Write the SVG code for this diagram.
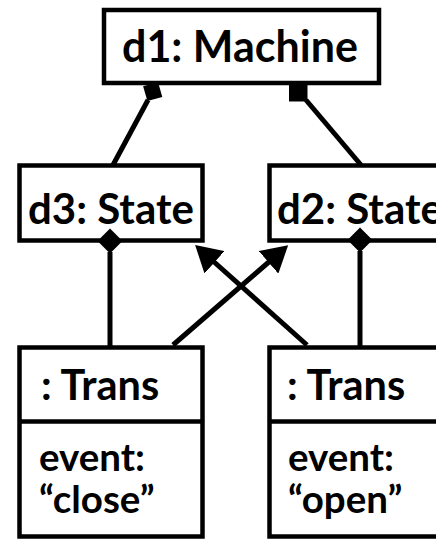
<svg xmlns="http://www.w3.org/2000/svg" width="436" height="540" viewBox="0 0 436 540">
  <style>
    .box { fill: #fff; stroke: #000; stroke-width: 4.5; }
    .sep { stroke: #000; stroke-width: 4.5; }
    .lbl { font-family: Lato, "Open Sans", sans-serif; font-weight: bold; fill: #000; }
    .big { font-size: 43px; }
    .state { font-size: 42px; }
    .cls { font-size: 41.5px; }
    .attr { font-size: 38.5px; }
    .link { stroke: #000; stroke-width: 5; fill: none; }
    .diamond { fill: #000; }
  </style>
  <defs>
    <marker id="head" viewBox="0 0 26 30" refX="2" refY="15" markerWidth="26" markerHeight="30" markerUnits="userSpaceOnUse" orient="auto">
      <path d="M0,0 L26,15 L0,30 Z" fill="#000"/>
    </marker>
  </defs>

  <g id="d1">
    <rect class="box" x="104" y="10" width="275" height="73"/>
    <text class="lbl big" x="122" y="62">d1: Machine</text>
  </g>

  <g id="d3">
    <rect class="box" x="19.5" y="165.5" width="183" height="75"/>
    <text class="lbl state" x="28" y="224">d3: State</text>
  </g>

  <g id="d2">
    <rect class="box" x="269.5" y="165.5" width="183" height="75"/>
    <text class="lbl state" x="277" y="224">d2: State</text>
  </g>

  <g id="t1">
    <rect class="box" x="19.5" y="347.5" width="183" height="189"/>
    <line class="sep" x1="19.5" y1="421.5" x2="202.5" y2="421.5"/>
    <text class="lbl cls" x="41" y="400">: Trans</text>
    <text class="lbl attr" x="39" y="471">event:</text>
    <text class="lbl attr" x="39" y="513">“close”</text>
  </g>

  <g id="t2">
    <rect class="box" x="269.5" y="347.5" width="183" height="189"/>
    <line class="sep" x1="269.5" y1="421.5" x2="452.5" y2="421.5"/>
    <text class="lbl cls" x="287" y="400">: Trans</text>
    <text class="lbl attr" x="288" y="471">event:</text>
    <text class="lbl attr" x="288" y="513">“open”</text>
  </g>

  <g id="connectors">
    <!-- composition: d1 owns d3 -->
    <polygon class="diamond" points="158,82 162.3,96.9 147.4,101.1 143.1,86.3"/>
    <line class="link" x1="148" y1="100" x2="113" y2="165"/>
    <!-- composition: d1 owns d2 -->
    <polygon class="diamond" points="289,83 307.5,83 307.5,101.5 289,101.5"/>
    <line class="link" x1="306" y1="100" x2="361" y2="165"/>
    <!-- composition: d3 owns close transition -->
    <polygon class="diamond" points="110,228.5 122.5,241 110,253.5 97.5,241"/>
    <line class="link" x1="110" y1="252" x2="110" y2="347"/>
    <!-- composition: d2 owns open transition -->
    <polygon class="diamond" points="360,227.5 372.5,240 360,252.5 347.5,240"/>
    <line class="link" x1="360" y1="251" x2="360" y2="347"/>
    <!-- open transition targets d3 -->
    <line class="link" x1="307" y1="345" x2="213" y2="261" marker-end="url(#head)"/>
    <!-- close transition targets d2 -->
    <line class="link" x1="173" y1="345" x2="270" y2="261" marker-end="url(#head)"/>
  </g>
</svg>
